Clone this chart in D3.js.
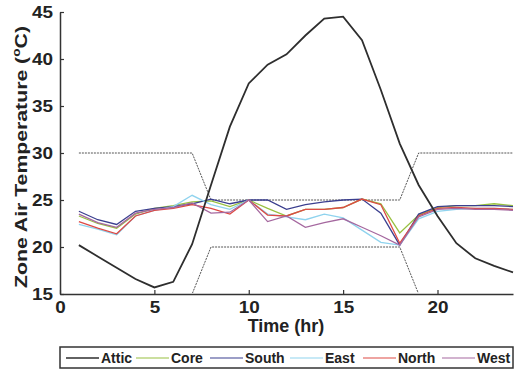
<!DOCTYPE html>
<html>
<head>
<meta charset="utf-8">
<script src="https://cdn.jsdelivr.net/npm/d3@7"></script>
<style>
  body { margin: 0; background: #fff; }
  svg { font-family: "Liberation Sans", Arial, sans-serif; font-weight: bold; }
</style>
</head>
<body>
<div id="chart"></div>
<script>
// hourly values
let hours = d3.range(1, 25)
let attic = [20.2, 19.0, 17.8, 16.6, 15.7, 16.3, 20.3, 26.6, 32.8, 37.4, 39.4, 40.5, 42.5, 44.3, 44.5, 42.0, 36.7, 31.0, 26.6, 23.3, 20.4, 18.8, 18.0, 17.3]
let core  = [23.3, 22.5, 22.0, 23.5, 24.1, 24.4, 24.8, 24.9, 24.3, 25.0, 24.1, 23.3, 24.0, 24.0, 24.2, 25.1, 24.6, 21.5, 23.4, 24.2, 24.4, 24.4, 24.6, 24.4]
let south = [23.8, 22.9, 22.4, 23.8, 24.1, 24.3, 24.6, 25.1, 24.6, 25.0, 25.0, 24.0, 24.5, 24.8, 25.0, 25.1, 23.6, 20.2, 23.5, 24.3, 24.4, 24.4, 24.4, 24.3]
let east  = [22.4, 21.9, 21.3, 23.3, 23.9, 24.3, 25.5, 24.5, 24.0, 25.0, 23.5, 23.2, 22.9, 23.5, 23.1, 21.8, 20.5, 20.2, 23.0, 23.8, 24.0, 24.1, 24.1, 24.0]
let north = [22.7, 22.0, 21.4, 23.3, 23.9, 24.1, 24.5, 24.1, 23.5, 25.0, 23.4, 23.3, 24.0, 24.0, 24.2, 25.1, 24.5, 20.4, 23.3, 24.1, 24.2, 24.1, 24.1, 24.0]
let west  = [23.5, 22.6, 22.1, 23.6, 24.0, 24.2, 24.7, 23.6, 23.7, 25.0, 22.7, 23.3, 22.1, 22.6, 23.0, 22.1, 21.2, 20.2, 23.2, 24.0, 24.1, 24.0, 24.0, 23.9]
let coolSet = [30, 30, 30, 30, 30, 30, 30, 25, 25, 25, 25, 25, 25, 25, 25, 25, 25, 25, 30, 30, 30, 30, 30, 30]
let heatSet = [15, 15, 15, 15, 15, 15, 15, 20, 20, 20, 20, 20, 20, 20, 20, 20, 20, 20, 15, 15, 15, 15, 15, 15]

let names  = ['Attic', 'Core', 'South', 'East', 'North', 'West']
let colors = ['#2e2e2e', '#98c040', '#3b3f8f', '#8fd3ee', '#dd4a45', '#a5689f']
let series = [attic, core, south, east, north, west]
let xTicks = [0, 5, 10, 15, 20]
let yTicks = [15, 20, 25, 30, 35, 40, 45]

let W = 515, H = 373
let svg = d3.select('#chart').append('svg').attr('width', W).attr('height', H)

let x = d3.scaleLinear().domain([0, 24]).range([60, 513])
let y = d3.scaleLinear().domain([15, 45]).range([294, 12])

// clip just above the x axis so the 15 degree setpoint hides under it
svg.append('clipPath').attr('id', 'clip')
	.append('rect').attr('x', 60).attr('y', 0).attr('width', 455).attr('height', 293)

let line = d3.line().x((d, i) => x(hours[i])).y(d => y(d))

let plot = svg.append('g').attr('clip-path', 'url(#clip)')

// setpoints
;[coolSet, heatSet].forEach(function(s){
	plot.append('path').attr('d', line(s))
		.attr('fill', 'none').attr('stroke', '#555')
		.attr('stroke-width', 1).attr('stroke-dasharray', '2,1')
})

// zones, attic last so it sits on top
for (let k = 1; k < series.length; k++) {
	plot.append('path').attr('d', line(series[k]))
		.attr('fill', 'none').attr('stroke', colors[k]).attr('stroke-width', 1.3)
}
plot.append('path').attr('d', line(attic))
	.attr('fill', 'none').attr('stroke', colors[0]).attr('stroke-width', 1.8)

// axes
let xAxis = svg.append('g').attr('transform', 'translate(0,294)')
	.call(d3.axisBottom(x).tickValues(xTicks).tickSize(-4).tickSizeOuter(0).tickPadding(8))
let yAxis = svg.append('g').attr('transform', 'translate(60,0)')
	.call(d3.axisLeft(y).tickValues(yTicks).tickSize(-4).tickSizeOuter(0).tickPadding(7))
;[xAxis, yAxis].forEach(function(a){
	a.select('.domain').attr('stroke', '#333').attr('stroke-width', 1.5)
	a.selectAll('.tick line').attr('stroke', '#333').attr('stroke-width', 1.2)
	a.selectAll('.tick text').attr('font-size', 16).attr('font-family', 'Liberation Sans, Arial, sans-serif')
		.attr('font-weight', 'bold').attr('fill', '#222')
		.attr('textLength', d => String(d).length * 10.5).attr('lengthAdjust', 'spacingAndGlyphs')
})
yAxis.selectAll('.tick text').attr('dy', '0.36em')

svg.append('text').attr('x', 286).attr('y', 332).attr('text-anchor', 'middle')
	.attr('font-size', 18).attr('fill', '#222').text('Time (hr)')

let yt = svg.append('text').attr('transform', 'translate(27,157) rotate(-90)')
	.attr('text-anchor', 'middle').attr('font-size', 17).attr('fill', '#222')
yt.append('tspan').text('Zone Air Temperature (')
yt.append('tspan').attr('font-size', 11).attr('dy', -7).text('o')
yt.append('tspan').attr('dy', 7).text('C)')
yt.attr('textLength', 262).attr('lengthAdjust', 'spacingAndGlyphs')

// legend
svg.append('rect').attr('x', 60).attr('y', 347).attr('width', 453).attr('height', 21)
	.attr('fill', '#fff').attr('stroke', '#333').attr('stroke-width', 1.5)
let legX = [66, 136, 210, 290, 363, 442]
let leg = svg.selectAll('.leg').data(names).enter().append('g')
	.attr('transform', (d, i) => 'translate(' + legX[i] + ',358)')
leg.append('line').attr('x1', 0).attr('x2', 33).attr('y1', 0).attr('y2', 0)
	.attr('stroke', (d, i) => colors[i]).attr('stroke-width', (d, i) => i == 0 ? 1.5 : 1.2)
leg.append('text').attr('x', 35).attr('y', 0).attr('dy', '0.36em')
	.attr('font-size', 14).attr('fill', '#222').text(d => d)
</script>
</body>
</html>
